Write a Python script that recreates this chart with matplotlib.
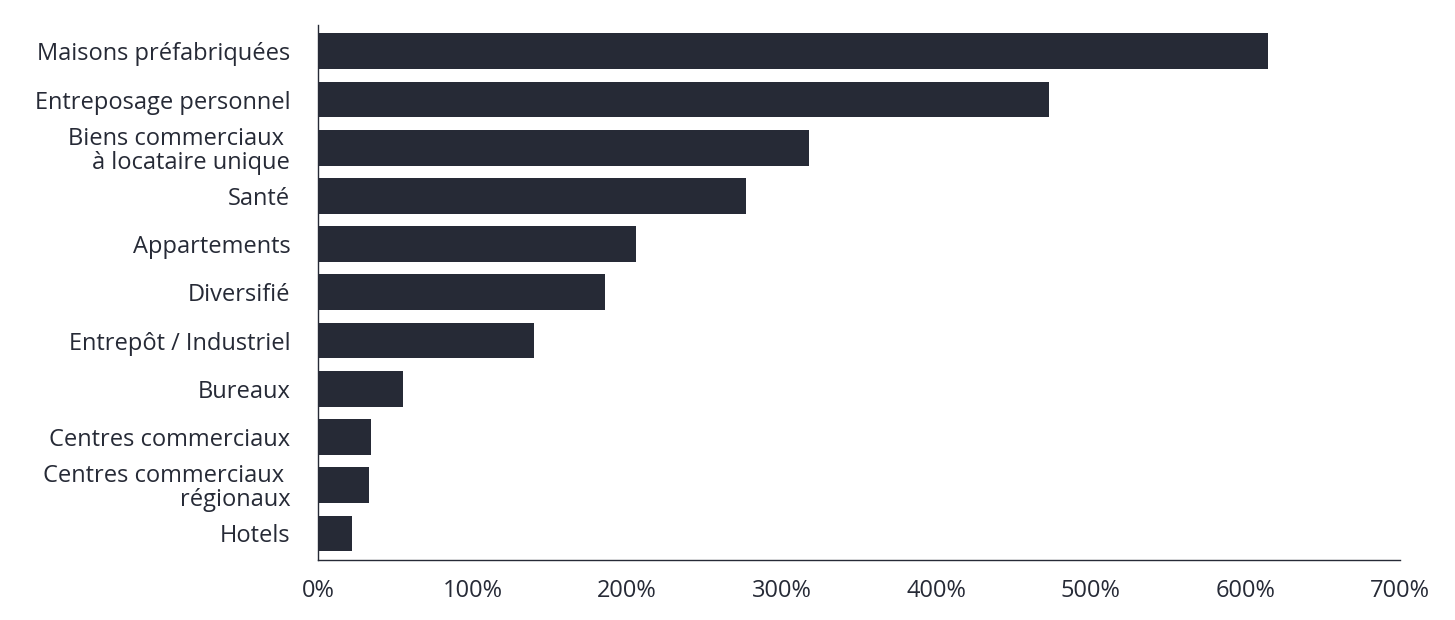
import matplotlib.pyplot as plt
from matplotlib.ticker import FuncFormatter

categories = ['Maisons préfabriquées', 'Entreposage personnel', 'Biens commerciaux \nà locataire unique',
              'Santé', 'Appartements', 'Diversifié', 'Entrepôt / Industriel', 'Bureaux',
              'Centres commerciaux', 'Centres commerciaux \nrégionaux', 'Hotels']
values = [615, 473, 318, 277, 206, 186, 140, 55, 34, 33, 22]

plt.rcParams['font.family'] = ['Open Sans', 'DejaVu Sans']

fig = plt.figure(figsize=(14.55, 6.2), dpi=100)
ax = fig.add_axes([0.2186, 0.097, 0.7434, 0.863])
pos = list(range(len(categories)))
ax.barh(pos, values, height=0.74, color='#262a36')
ax.set_yticks(pos)
ax.set_yticklabels(categories, fontsize=17, color='#262a36', linespacing=1.0)
ax.invert_yaxis()
ax.set_ylim(len(categories) - 0.45, -0.55)
ax.set_xlim(0, 700)
ax.set_xticks(range(0, 701, 100))
ax.xaxis.set_major_formatter(FuncFormatter(lambda v, p: f'{int(v)}%'))
ax.tick_params(axis='x', labelsize=17, colors='#262a36', length=0, pad=14)
ax.tick_params(axis='y', length=0, pad=20)
for s in ['top', 'right']:
    ax.spines[s].set_visible(False)
for s in ['left', 'bottom']:
    ax.spines[s].set_color('#262a36')
    ax.spines[s].set_linewidth(1)

fig.savefig('out.png', dpi=100)
